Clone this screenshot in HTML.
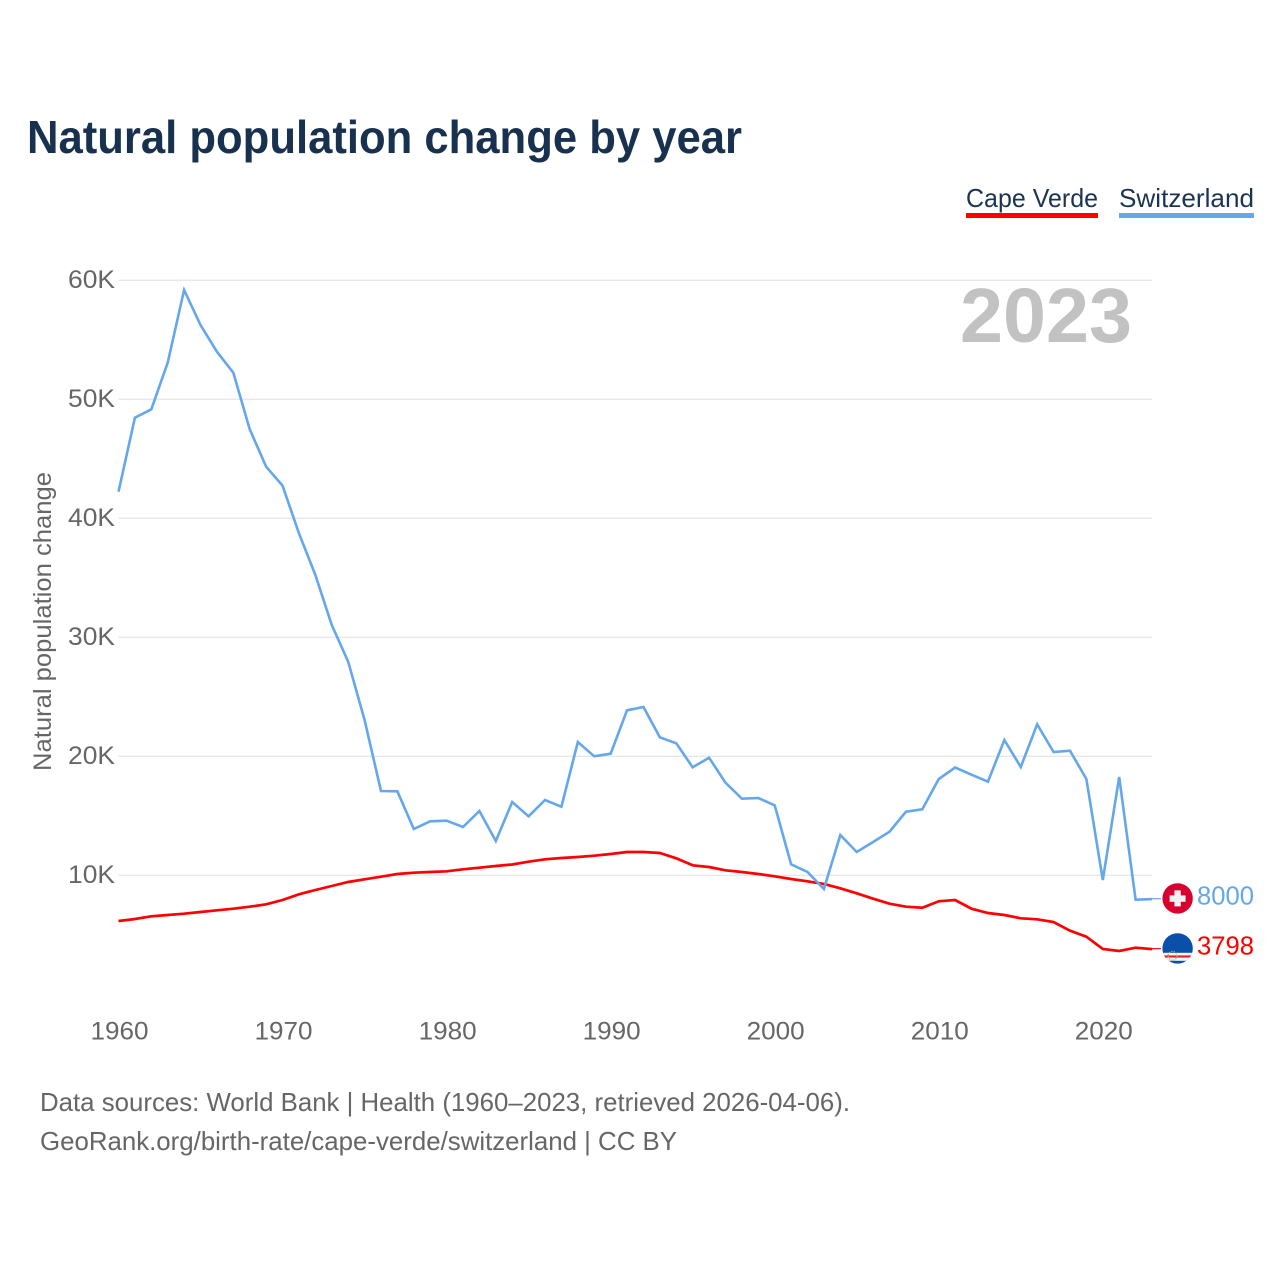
<!DOCTYPE html>
<html lang="en">
<head>
<meta charset="utf-8">
<title>Natural population change by year</title>
<style>
  html, body { margin: 0; padding: 0; background: #fff; }
  svg { display: block; font-family: "Liberation Sans", sans-serif; }
</style>
</head>
<body>
<svg id="chart" xmlns="http://www.w3.org/2000/svg" width="1280" height="1280" viewBox="0 0 1280 1280">
  <rect width="1280" height="1280" fill="#ffffff"/>
  <text x="27" y="153" font-size="46" font-weight="700" fill="#18314f" textLength="715" lengthAdjust="spacingAndGlyphs">Natural population change by year</text>

  <g>
    <text x="966" y="207" font-size="26" fill="#1b3454" textLength="132" lengthAdjust="spacingAndGlyphs">Cape Verde</text>
    <rect x="966" y="213" width="132" height="5" fill="#ff0000"/>
  </g>
  <g>
    <text x="1119" y="207" font-size="26" fill="#1b3454" textLength="135" lengthAdjust="spacingAndGlyphs">Switzerland</text>
    <rect x="1119" y="213" width="135" height="5" fill="#64a7eb"/>
  </g>

  <g id="y-grid"></g>
  <g id="y-ticks"></g>
  <g id="x-ticks"></g>

  <text transform="translate(51 771) rotate(-90)" x="0" y="0" font-size="25" fill="#666666" textLength="299" lengthAdjust="spacingAndGlyphs">Natural population change</text>
  <text x="960" y="342" font-size="77" font-weight="700" fill="#c2c2c2" textLength="172" lengthAdjust="spacingAndGlyphs">2023</text>

  <g id="series"></g>

  <g id="flag-ch">
    <circle cx="0" cy="0" r="15.2" fill="#d8002e"/>
    <rect x="-8" y="-3" width="16" height="6.4" fill="#f1f1f1"/>
    <rect x="-3.2" y="-8" width="6.4" height="16" fill="#f1f1f1"/>
  </g>
  <g id="flag-cv">
    <clipPath id="cv-clip"><circle cx="0" cy="0" r="15.2"/></clipPath>
    <g clip-path="url(#cv-clip)">
      <rect x="-16" y="-16" width="32" height="32" fill="#0a50ab"/>
      <rect x="-16" y="4.4" width="32" height="8" fill="#f4f4f4"/>
      <rect x="-16" y="7" width="32" height="2.2" fill="#e8202e"/>
      <circle cx="-5" cy="7.4" r="4.4" fill="none" stroke="#b9a878" stroke-width="1.2" stroke-dasharray="1.2 1.2"/>
    </g>
  </g>
  <text id="value-ch" x="1197" font-size="25.5" fill="#64a7eb" textLength="57" lengthAdjust="spacingAndGlyphs"></text>
  <text id="value-cv" x="1197" font-size="25.5" fill="#ff0000" textLength="57" lengthAdjust="spacingAndGlyphs"></text>

  <text x="40" y="1111" font-size="26" fill="#666666" textLength="810" lengthAdjust="spacingAndGlyphs">Data sources: World Bank | Health (1960–2023, retrieved 2026-04-06).</text>
  <text x="40" y="1150" font-size="26" fill="#666666" textLength="637" lengthAdjust="spacingAndGlyphs">GeoRank.org/birth-rate/cape-verde/switzerland | CC BY</text>
</svg>
<script>
var startYear = 1960;
var yTickValues = [10000, 20000, 30000, 40000, 50000, 60000];
var yTickLabels = ["10K", "20K", "30K", "40K", "50K", "60K"];
var xTickLabels = [1960, 1970, 1980, 1990, 2000, 2010, 2020];
var switzerland = [
  42235, 48454, 49160, 53076, 59185, 56244, 54000, 52235, 47479, 44336,
  42739, 38739, 35235, 31034, 27950, 23050, 17084, 17059, 13891, 14538,
  14588, 14059, 15403, 12882, 16160, 14958, 16328, 15765, 21202, 20000,
  20218, 23866, 24143, 21597, 21092, 19076, 19882, 17782, 16437, 16496,
  15882, 10924, 10277, 8849, 13387, 11958, 12798, 13664, 15345, 15546,
  18092, 19059, 18454, 17866, 21370, 19101, 22689, 20361, 20471, 18092,
  9605, 18261, 7950, 8000
];
var capeVerde = [
  6160, 6328, 6555, 6664, 6773, 6916, 7059, 7193, 7361, 7563,
  7924, 8403, 8765, 9101, 9437, 9664, 9882, 10109, 10218, 10277,
  10336, 10504, 10639, 10782, 10908, 11143, 11345, 11454, 11538, 11647,
  11790, 11958, 11958, 11874, 11429, 10840, 10697, 10420, 10277, 10109,
  9916, 9689, 9496, 9269, 8908, 8487, 8034, 7613, 7361, 7277,
  7815, 7924, 7193, 6832, 6664, 6387, 6303, 6076, 5345, 4840,
  3807, 3639, 3916, 3798
];

var NS = "http://www.w3.org/2000/svg";
var plotLeft = 118.5, plotRight = 1152, yearSpan = 63;
var zeroY = 994.3, pxPerUnit = 0.0119;

function xScale(year) {
  return plotLeft + (year - startYear) * (plotRight - plotLeft) / yearSpan;
}
function yScale(value) {
  return zeroY - value * pxPerUnit;
}
function make(tag, attrs, parent) {
  var el = document.createElementNS(NS, tag);
  for (var k in attrs) el.setAttribute(k, attrs[k]);
  parent.appendChild(el);
  return el;
}

var gridGroup = document.getElementById("y-grid");
var yTickGroup = document.getElementById("y-ticks");
yTickValues.forEach(function (v, i) {
  var line = make("line", { x1: plotLeft, x2: plotRight, y1: yScale(v), y2: yScale(v), stroke: "#e8e8e8", "stroke-width": 1.3 }, gridGroup);
  
  
  var t = make("text", { x: 68, y: yScale(v) + 7.5, "font-size": 25, fill: "#666666", textLength: 47, lengthAdjust: "spacingAndGlyphs" }, yTickGroup);
  t.textContent = yTickLabels[i];
  
  
});

var xTickGroup = document.getElementById("x-ticks");
xTickLabels.forEach(function (year) {
  var t = make("text", { x: xScale(year) - 28, y: 1039.5, "font-size": 25, fill: "#666666", textLength: 58, lengthAdjust: "spacingAndGlyphs" }, xTickGroup);
  t.textContent = String(year);
  
  
});

function drawSeries(values, color, width, name) {
  var group = document.getElementById("series");
  var pts = values.map(function (v, i) {
    return xScale(startYear + i).toFixed(2) + "," + yScale(v).toFixed(2);
  }).join(" ");
  var line = make("polyline", { points: pts, fill: "none", stroke: color, "stroke-width": width, "stroke-linejoin": "miter" }, group);
  
  
  var last = values[values.length - 1];
  var lastX = xScale(startYear + values.length - 1);
  var conn = make("line", { x1: lastX, x2: lastX + 9, y1: yScale(last) - 0.4, y2: yScale(last) - 0.4, stroke: color, "stroke-width": 1.2 }, group);
  
  
}
drawSeries(capeVerde, "#ff0000", 2.7, "cape-verde");
drawSeries(switzerland, "#64a7eb", 2.6, "switzerland");

function placeEnd(values, flagId, labelId) {
  var last = values[values.length - 1];
  var y = yScale(last) - 0.7;
  document.getElementById(flagId).setAttribute("transform", "translate(1177.6 " + y + ")");
  var label = document.getElementById(labelId);
  label.setAttribute("y", y + 6);
  label.textContent = String(last);
}
placeEnd(switzerland, "flag-ch", "value-ch");
placeEnd(capeVerde, "flag-cv", "value-cv");
</script>
</body>
</html>
